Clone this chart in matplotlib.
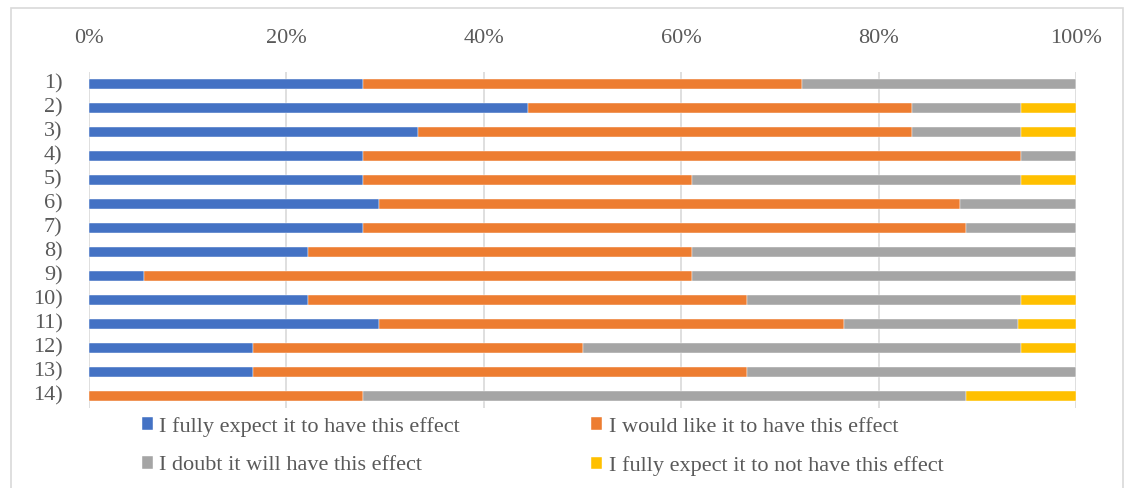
import matplotlib
matplotlib.use("Agg")
import matplotlib.pyplot as plt
from matplotlib.patches import Rectangle
from matplotlib.ticker import PercentFormatter
import numpy as np

# Survey responses per statement (counts of respondents)
items = ["1)", "2)", "3)", "4)", "5)", "6)", "7)", "8)", "9)", "10)", "11)", "12)", "13)", "14)"]
fully_expect = [5, 8, 6, 5, 5, 5, 5, 4, 1, 4, 5, 3, 3, 0]
would_like = [8, 7, 9, 12, 6, 10, 11, 7, 10, 8, 8, 6, 9, 5]
doubt = [5, 2, 2, 1, 6, 2, 2, 7, 7, 5, 3, 8, 6, 11]
expect_not = [0, 1, 1, 0, 1, 0, 0, 0, 0, 1, 1, 1, 0, 2]

series_names = [
    "I fully expect it to have this effect",
    "I would like it to have this effect",
    "I doubt it will have this effect",
    "I fully expect it to not have this effect",
]
colors = ["#4472C4", "#ED7D31", "#A5A5A5", "#FFC000"]
text_color = "#595959"

plt.rcParams["font.family"] = ["Liberation Serif", "DejaVu Serif"]

counts = np.array([fully_expect, would_like, doubt, expect_not], dtype=float)
shares = counts / counts.sum(axis=0) * 100

fig = plt.figure(figsize=(11.36, 4.88), dpi=100)
ax = fig.add_axes([0.0783, 0.164, 0.869, 0.689])

y = np.arange(len(items))
left = np.zeros(len(items))
handles = []
for vals, name, col in zip(shares, series_names, colors):
    h = ax.barh(y, vals, left=left, height=0.43, color=col, label=name,
                edgecolor="white", linewidth=0.3, zorder=3)
    handles.append(h)
    left += vals

ax.set_xlim(0, 100)
ax.set_ylim(len(items) - 0.5, -0.5)
ax.set_yticks(y)
ax.set_yticklabels(items)
ax.set_xticks(np.arange(0, 101, 20))
ax.xaxis.set_major_formatter(PercentFormatter(decimals=0))
ax.xaxis.tick_top()
ax.tick_params(axis="x", length=0, pad=17, labelsize=16, labelcolor=text_color)
ax.tick_params(axis="y", length=0, pad=19, labelsize=16, labelcolor=text_color)
for lbl in ax.get_yticklabels():
    lbl.set_verticalalignment("center")
ax.grid(axis="x", color="#D9D9D9", linewidth=1.2, zorder=0)
for s in ax.spines.values():
    s.set_visible(False)

# Legend in two rows below the bars (column-major order gives rows blue/orange, gray/yellow)
order = [0, 2, 1, 3]
leg = fig.legend(handles=[handles[i] for i in order],
                 labels=[series_names[i] for i in order], ncol=2, loc="lower left",
                 bbox_to_anchor=(0.107, -0.016), frameon=False, fontsize=16,
                 handlelength=0.5, handleheight=0.5, handletextpad=0.3,
                 columnspacing=5.9, labelspacing=0.87, labelcolor=text_color)

# Light frame around the chart area
fig.add_artist(Rectangle((0.0097, -0.01), 0.979, 0.9936, transform=fig.transFigure,
                         fill=False, edgecolor="#D9D9D9", linewidth=1.2))

fig.savefig("out.png", dpi=100, facecolor="white")
